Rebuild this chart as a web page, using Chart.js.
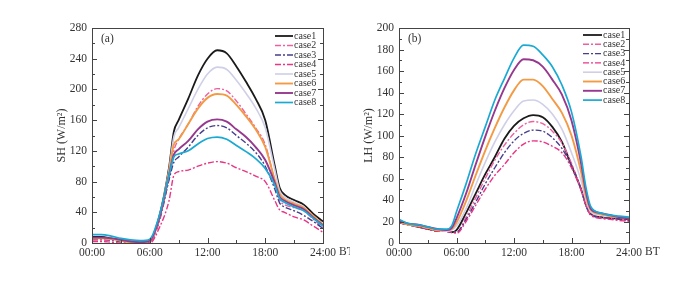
<!DOCTYPE html>
<html>
<head>
<meta charset="utf-8">
<title>SH / LH</title>
<script src="https://cdn.jsdelivr.net/npm/chart.js@4.4.0/dist/chart.umd.min.js"></script>
<style>
body{margin:0;background:#fff;width:700px;height:286px;overflow:hidden;position:relative}
canvas{position:absolute;top:0}
#cA{left:0}
#cB{left:350px}
</style>
</head>
<body>
<canvas id="cA" width="350" height="286"></canvas>
<canvas id="cB" width="350" height="286"></canvas>
<script>
/* data */
const caseNames = ['case1','case2','case3','case4','case5','case6','case7','case8'];

const hoursSH = [0,1,2,3,4,5,6,7,8,8.5,9,10,11,12,13,14,15,16,17,18,19,19.5,20,21,22,23,24];
const sh1 = [8,8,6,4,2,1,3,35,98,145,160,188,218,240,251,247,230,210,188,160,100,72,63,56,50,38,28];
const sh2 = [4,4,3,2,0,0,1,28,85,120,135,155,178,194,201,198,185,168,150,128,80,56,50,46,42,31,20];
const sh3 = [5,5,4,2,1,0,2,30,82,105,112,125,140,150,153,150,140,130,118,100,70,52,47,42,36,28,19];
const sh4 = [2,2,1,0,0,0,0,20,55,88,93,95,100,104,106,104,98,93,87,80,55,43,40,34,30,22,14];
const sh5 = [6,6,5,3,1,1,3,33,95,138,150,175,200,220,229,226,212,195,176,150,95,68,60,53,47,35,25];
const sh6 = [6,6,5,3,1,1,3,33,92,128,135,155,175,189,194,192,180,165,148,125,82,64,57,51,46,35,24];
const sh7 = [7,7,6,4,2,1,3,33,88,115,122,133,148,158,161,158,148,138,125,108,78,60,55,49,44,33,23];
const sh8 = [11,11,9,6,4,3,5,36,88,112,116,120,129,136,138,135,127,119,110,97,75,58,53,47,42,32,22];

const hoursLH = [0,1,2,3,4,5,5.5,6,7,8,9,10,11,12,13,14,15,16,17,18,19,19.5,20,21,22,23,24];
const lh1 = [19,17,15,13,12,11,10,12,28,46,64,80,97,109,116,119,117,108,94,72,50,36,27,24,23,23,22];
const lh2 = [19,17,15,13,11,11,10,10,24,42,60,77,91,102,110,113,111,104,93,74,50,36,27,24,23,22,21];
const lh3 = [19,17,15,13,11,11,10,10,22,38,55,70,84,95,102,105,104,98,88,72,50,35,26,24,23,22,21];
const lh4 = [19,17,15,13,11,11,10,9,20,35,50,63,73,84,92,95,94,90,84,70,49,35,26,23,22,21,20];
const lh5 = [20,17,16,14,12,11,12,16,32,54,75,94,110,123,132,133,129,120,106,84,58,40,29,26,25,24,23];
const lh6 = [20,17,16,14,12,12,13,19,39,63,86,107,126,142,152,152,146,134,121,100,66,44,31,27,25,24,23];
const lh7 = [21,18,17,15,13,12,14,23,46,73,99,123,144,161,171,170,164,152,138,114,74,48,32,28,26,24,23];
const lh8 = [22,18,17,15,13,13,16,29,55,83,108,133,153,172,184,183,175,164,147,122,80,52,34,28,26,25,24];

const hourTicks = ['00:00','06:00','12:00','18:00','24:00'];

/* styles */
const SERIF = '"Liberation Serif","DejaVu Serif",serif';
const styleA = [
  {c:'#1a1a1a', w:1.8, d:[]},
  {c:'#ee5fa0', w:1.4, d:[6,2,2,2]},
  {c:'#463d8c', w:1.4, d:[6,2,2,2]},
  {c:'#ea3585', w:1.4, d:[6,2,2,2]},
  {c:'#cfcfe8', w:1.6, d:[]},
  {c:'#f39a45', w:1.9, d:[]},
  {c:'#97388f', w:1.9, d:[]},
  {c:'#1aa9d2', w:1.7, d:[]}
];

function mkSets(hours, arrs){
  return arrs.map((a,i)=>({
    label: caseNames[i],
    data: a.map((v,k)=>({x:hours[k], y:v})),
    borderColor: styleA[i].c,
    borderWidth: styleA[i].w,
    borderDash: styleA[i].d,
    pointRadius: 0,
    fill: false,
    cubicInterpolationMode: 'monotone'
  })).reverse();
}

/* frame, inward ticks, legend, labels */
const decor = {
  id:'decor',
  afterDatasetsDraw(chart, args, o){
    const {ctx, chartArea:ca, scales:{x, y}} = chart;
    ctx.save();
    ctx.strokeStyle = '#444';
    ctx.lineWidth = 1;
    ctx.setLineDash([]);
    ctx.strokeRect(Math.round(ca.left)+0.5, Math.round(ca.top)+0.5, Math.round(ca.width), Math.round(ca.height));
    ctx.beginPath();
    for(let h=0; h<=24; h+=3){
      const px = Math.round(x.getPixelForValue(h))+0.5;
      const len = h%6===0 ? 5 : 3;
      ctx.moveTo(px, ca.bottom); ctx.lineTo(px, ca.bottom-len);
    }
    for(let v=0; v<=o.ymax; v+=o.step/2){
      const py = Math.round(y.getPixelForValue(v))+0.5;
      const len = (v % o.step)===0 ? 5 : 3;
      ctx.moveTo(ca.left, py); ctx.lineTo(ca.left+len, py);
      ctx.moveTo(ca.right, py); ctx.lineTo(ca.right-len, py);
    }
    ctx.stroke();

    ctx.fillStyle = '#333';
    ctx.font = '11.5px '+SERIF;
    ctx.textBaseline = 'middle';
    ctx.textAlign = 'left';
    ctx.fillText(o.tag, ca.left+o.tagDx, ca.top+11);
    ctx.fillText('BT', ca.right+16, ca.bottom+9);

    // legend
    ctx.font = '10px '+SERIF;
    const sets = chart.data.datasets.slice().reverse();
    sets.forEach((ds,i)=>{
      const ly = o.ly + i*o.lstep;
      ctx.strokeStyle = ds.borderColor;
      ctx.lineWidth = ds.borderWidth;
      ctx.setLineDash(ds.borderDash);
      ctx.beginPath();
      ctx.moveTo(o.lx, ly); ctx.lineTo(o.lx+o.llen, ly);
      ctx.stroke();
      ctx.fillStyle = '#333';
      ctx.fillText(ds.label, o.lx+o.llen+1, ly);
    });
    ctx.restore();
  }
};

function draw(id, hours, arrs, ymax, step, title, yw, padR, deco){
  return new Chart(document.getElementById(id), {
    type:'line',
    data:{ datasets: mkSets(hours, arrs) },
    plugins:[decor],
    options:{
      responsive:false,
      animation:false,
      layout:{ padding:{ top:28, right:padR, left:0, bottom:0 } },
      plugins:{ legend:{display:false}, tooltip:{enabled:false}, decor:deco },
      scales:{
        x:{
          type:'linear', min:0, max:24,
          afterFit: s=>{ s.height = 43; },
          afterBuildTicks: s=>{ s.ticks = [0,6,12,18,24].map(v=>({value:v})); },
          grid:{ display:false, drawTicks:false },
          border:{ display:false },
          ticks:{
            padding:3, color:'#333', maxRotation:0, autoSkip:false,
            font:{ family:SERIF, size:11.5 },
            callback:(v)=>hourTicks[v/6]
          }
        },
        y:{
          min:0, max:ymax,
          afterFit: s=>{ s.width = yw; },
          grid:{ display:false, drawTicks:false },
          border:{ display:false },
          ticks:{ stepSize:step, padding:5, color:'#333', font:{ family:SERIF, size:11.5 } },
          title:{ display:true, text:title, color:'#333', font:{ family:SERIF, size:12 }, padding:{top:yw-37, bottom:0} }
        }
      }
    }
  });
}

draw('cA', hoursSH, [sh1,sh2,sh3,sh4,sh5,sh6,sh7,sh8], 280, 40, 'SH (W/m²)', 92, 27,
  {ymax:280, step:40, tag:'(a)', tagDx:9, lx:275, ly:36, lstep:9.5, llen:18});
draw('cB', hoursLH, [lh1,lh2,lh3,lh4,lh5,lh6,lh7,lh8], 200, 20, 'LH (W/m²)', 49, 71,
  {ymax:200, step:20, tag:'(b)', tagDx:9, lx:233, ly:35, lstep:9.3, llen:19});
</script>
</body>
</html>
